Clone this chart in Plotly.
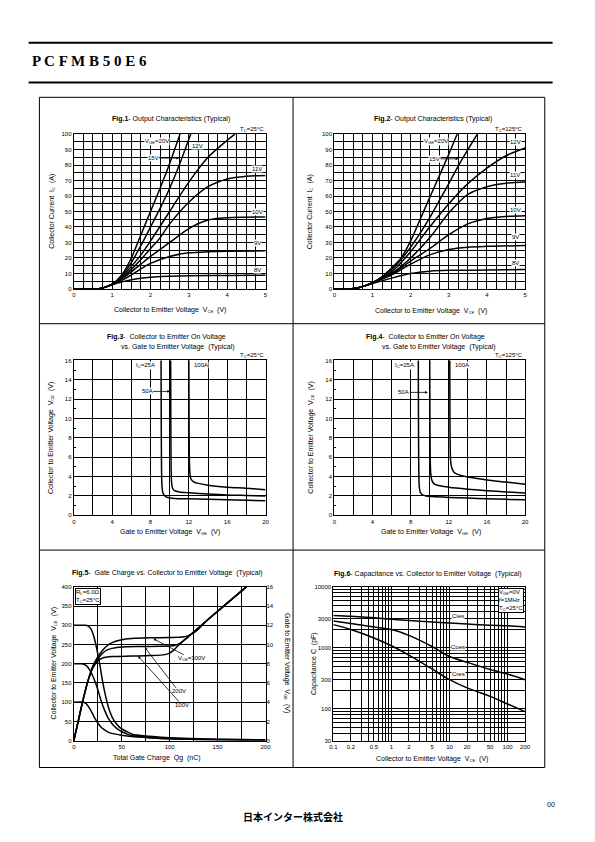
import math
import plotly.graph_objects as go

FONT = "Liberation Sans, Arial, sans-serif"
W, H = 595, 842

# ---------------- DATA ----------------
# Fig.1  Output characteristics, Tc=25°C : VCE (V) -> IC (A)
f1_vce_8 = [0, 0.6, 0.8, 1.0, 1.25, 1.5, 2.0, 2.5, 3.0, 4.0, 5.0]
f1_ic_8 = [0, 0, 1.0, 2.8, 4.5, 6.0, 7.6, 8.2, 8.5, 8.7, 8.9]
f1_vce_9 = [0, 0.6, 0.8, 1.0, 1.25, 1.5, 1.75, 2.0, 2.5, 3.0, 3.5, 4.0, 5.0]
f1_ic_9 = [0, 0, 1.0, 3.0, 5.5, 9.0, 13.0, 16.5, 21.0, 23.3, 24.0, 24.3, 24.6]
f1_vce_10 = [0, 0.6, 0.8, 1.0, 1.25, 1.5, 1.75, 2.0, 2.5, 3.0, 3.5, 4.0, 4.5, 5.0]
f1_ic_10 = [0, 0, 1.0, 3.0, 6.5, 11.0, 16.0, 21.0, 30.0, 39.0, 44.5, 46.0, 46.3, 46.5]
f1_vce_11 = [0, 0.6, 0.8, 1.0, 1.25, 1.5, 1.75, 2.0, 2.25, 2.5, 3.0, 3.5, 4.0, 4.5, 5.0]
f1_ic_11 = [0, 0, 1.0, 3.0, 7.0, 12.5, 19.0, 26.0, 33.0, 42.0, 56.0, 66.0, 71.0, 72.8, 73.3]
f1_vce_12 = [0, 0.6, 0.8, 1.0, 1.25, 1.5, 1.75, 2.0, 2.5, 3.0, 3.5, 4.0, 4.2]
f1_ic_12 = [0, 0, 1.0, 3.0, 7.5, 14.5, 22.0, 31.0, 50.0, 69.0, 85.0, 96.0, 100.0]
f1_vce_15 = [0, 0.6, 0.8, 1.0, 1.25, 1.5, 1.75, 2.0, 2.25, 2.5, 2.75, 3.05]
f1_ic_15 = [0, 0, 1.0, 3.0, 8.5, 17.0, 28.0, 40.0, 52.0, 65.0, 80.0, 100.0]
f1_vce_20 = [0, 0.6, 0.8, 1.0, 1.25, 1.5, 1.75, 2.0, 2.25, 2.5, 2.77]
f1_ic_20 = [0, 0, 1.0, 3.0, 9.0, 20.0, 35.0, 50.0, 65.0, 81.0, 100.0]

# Fig.2  Output characteristics, Tc=125°C
f2_vce_8 = [0, 0.4, 0.6, 0.8, 1.0, 1.5, 2.0, 2.5, 3.0, 4.0, 5.0]
f2_ic_8 = [0, 0, 0.6, 2.0, 3.5, 7.0, 10.0, 11.5, 12.0, 12.2, 12.5]
f2_vce_9 = [0, 0.4, 0.6, 0.8, 1.0, 1.5, 2.0, 2.5, 3.0, 3.5, 4.0, 5.0]
f2_ic_9 = [0, 0, 0.6, 2.0, 4.0, 9.0, 16.0, 22.0, 25.5, 27.0, 27.5, 28.0]
f2_vce_10 = [0, 0.4, 0.6, 0.8, 1.0, 1.5, 2.0, 2.5, 3.0, 3.5, 4.0, 4.5, 5.0]
f2_ic_10 = [0, 0, 0.6, 2.0, 4.0, 9.5, 18.0, 26.0, 35.0, 42.0, 45.5, 46.8, 47.3]
f2_vce_11 = [0, 0.4, 0.6, 0.8, 1.0, 1.5, 2.0, 2.5, 3.0, 3.5, 4.0, 4.5, 5.0]
f2_ic_11 = [0, 0, 0.6, 2.0, 4.0, 10.0, 20.0, 33.0, 49.0, 61.0, 66.0, 68.3, 69.0]
f2_vce_12 = [0, 0.4, 0.6, 0.8, 1.0, 1.5, 2.0, 2.25, 2.5, 3.0, 3.5, 4.0, 4.5, 5.0]
f2_ic_12 = [0, 0, 0.6, 2.0, 4.0, 11.0, 24.0, 32.0, 40.0, 55.0, 68.0, 78.0, 86.0, 91.0]
f2_vce_15 = [0, 0.4, 0.6, 0.8, 1.0, 1.25, 1.5, 1.75, 2.0, 2.25, 2.5, 2.75, 3.0, 3.25, 3.5, 3.75]
f2_ic_15 = [0, 0, 0.6, 2.0, 4.0, 7.5, 12.5, 19.0, 27.0, 36.0, 46.0, 57.0, 68.0, 79.5, 90.0, 100.0]
f2_vce_20 = [0, 0.4, 0.6, 0.8, 1.0, 1.25, 1.5, 1.75, 2.0, 2.25, 2.5, 2.75, 3.0, 3.22]
f2_ic_20 = [0, 0, 0.6, 2.0, 4.0, 8.0, 13.5, 20.0, 31.0, 45.0, 59.0, 73.0, 87.0, 100.0]

# Fig.3  VCE(sat) vs VGE, Tc=25°C : VGE (V) -> VCE (V)
f3_vge_25 = [9.1, 9.12, 9.15, 9.2, 9.3, 9.5, 9.8, 10.5, 12, 14, 16, 18, 20]
f3_vce_25 = [16.5, 10, 5, 3.0, 2.3, 2.0, 1.85, 1.75, 1.7, 1.65, 1.6, 1.55, 1.5]
f3_vge_50 = [10.1, 10.12, 10.15, 10.2, 10.3, 10.5, 11, 12, 14, 16, 18, 20]
f3_vce_50 = [16.5, 10, 5, 3.4, 2.8, 2.55, 2.42, 2.33, 2.2, 2.1, 2.05, 2.0]
f3_vge_100 = [12.0, 12.02, 12.05, 12.1, 12.2, 12.5, 13, 14, 16, 18, 20]
f3_vce_100 = [16.5, 10, 6, 4.5, 3.8, 3.45, 3.3, 3.1, 2.9, 2.8, 2.65]

# Fig.4  VCE(sat) vs VGE, Tc=125°C
f4_vge_25 = [8.8, 8.82, 8.85, 8.9, 9.0, 9.2, 9.6, 10.5, 12, 14, 16, 18, 20]
f4_vce_25 = [16.5, 10, 5, 3.0, 2.4, 2.15, 2.0, 1.93, 1.85, 1.78, 1.7, 1.65, 1.6]
f4_vge_50 = [10.0, 10.02, 10.05, 10.1, 10.2, 10.4, 10.8, 12, 14, 16, 18, 20]
f4_vce_50 = [16.5, 10, 6, 4.4, 3.7, 3.3, 3.1, 2.9, 2.7, 2.55, 2.42, 2.3]
f4_vge_100 = [12.1, 12.12, 12.15, 12.2, 12.35, 12.6, 13, 14, 16, 18, 20]
f4_vce_100 = [16.5, 10, 7, 5.5, 4.8, 4.4, 4.2, 3.95, 3.65, 3.43, 3.2]

# Fig.5  Gate charge : Qg (nC) -> VCE (V) and VGE (V)
f5_q_vce300 = [0, 12, 15, 18, 21, 24, 27, 30, 33, 37, 42, 48, 55, 61, 75, 95, 130, 170, 200]
f5_vce300 = [300, 300, 298, 290, 270, 238, 200, 155, 118, 80, 52, 34, 24, 17, 12, 8.6, 5, 3, 2.5]
f5_q_vce200 = [0, 8, 11, 14, 17, 20, 23, 26, 29, 32, 36, 42, 48, 55, 61, 80, 100, 150, 200]
f5_vce200 = [200, 200, 198, 193, 182, 167, 148, 125, 100, 80, 58, 38, 26, 18, 13, 8, 5, 3, 2]
f5_q_vce100 = [0, 10, 13, 16, 19, 22, 25, 28, 32, 37, 48, 60, 78, 120, 200]
f5_vce100 = [100, 100, 96, 86, 73, 58, 46, 36, 28, 21, 15, 11, 8, 4, 2]
f5_q_vge100 = [0, 5, 10, 15, 20, 25, 30, 40, 60, 80, 95, 100, 105, 110, 125, 140, 160, 180]
f5_vge100 = [0, 2.2, 4.4, 6.3, 7.6, 8.3, 8.6, 8.75, 8.8, 8.85, 8.95, 9.1, 9.5, 10.0, 11.3, 12.6, 14.3, 16.0]
f5_q_vge200 = [0, 5, 10, 15, 20, 25, 30, 35, 40, 50, 70, 90, 105, 110, 115, 120, 125, 140, 160, 180]
f5_vge200 = [0, 2.2, 4.4, 6.3, 7.7, 8.5, 9.1, 9.45, 9.6, 9.75, 9.8, 9.82, 9.9, 10.1, 10.45, 10.85, 11.3, 12.6, 14.3, 16.0]
f5_q_vge300 = [0, 5, 10, 15, 20, 25, 30, 35, 40, 50, 60, 80, 100, 115, 120, 125, 130, 140, 160, 180]
f5_vge300 = [0, 2.2, 4.4, 6.3, 7.8, 8.7, 9.4, 9.9, 10.2, 10.5, 10.62, 10.7, 10.72, 10.8, 10.95, 11.2, 11.6, 12.6, 14.3, 16.0]

# Fig.6  Capacitance : VCE (V) -> C (pF)
f6_vce = [0.1, 0.2, 0.5, 1, 2, 5, 10, 20, 50, 100, 200]
f6_cies = [3400, 3300, 3100, 2950, 2800, 2650, 2550, 2450, 2350, 2300, 2200]
f6_coes = [2750, 2500, 2200, 2000, 1600, 1050, 720, 580, 440, 370, 300]
f6_cres = [2400, 2000, 1450, 1080, 760, 450, 300, 220, 160, 120, 90]

# tick labels / grid positions of Fig.6
f6_xticks = [0.1, 0.2, 0.5, 1, 2, 5, 10, 20, 50, 100, 200]
f6_xlabels = ["0.1", "0.2", "0.5", "1", "2", "5", "10", "20", "50", "100", "200"]
f6_xgrid = [0.1, 0.2, 0.3, 0.4, 0.5, 0.6, 0.7, 0.8, 0.9, 1, 2, 3, 4, 5, 6, 7, 8, 9,
            10, 20, 30, 40, 50, 60, 70, 80, 90, 100, 200]
f6_yticks = [30, 100, 300, 1000, 3000, 10000]
f6_ylabels = ["30", "100", "300", "1000", "3000", "10000"]
f6_ygrid = [30, 40, 50, 60, 70, 80, 90, 100, 200, 300, 400, 500, 600, 700, 800, 900,
            1000, 2000, 3000, 4000, 5000, 6000, 7000, 8000, 9000, 10000]


# ---------------- helpers ----------------
def px(x):
    return x / W


def py(y):
    return 1 - y / H


def sub(s):
    # small, slightly lowered subscript without plotly's spacer tspans
    return '<span style="font-size:4.2px;baseline-shift:-1.3px">' + s + '</span>'


GRID = dict(showgrid=True, gridcolor="black", gridwidth=1)


def axis(**kw):
    d = dict(showline=True, linecolor="black", linewidth=1.2, mirror=True,
             zeroline=False, ticks="", ticklen=0,
             tickfont=dict(family=FONT, size=6, color="black"), **GRID)
    d.update(kw)
    return d


def minor(dt, grid=True):
    if grid:
        return dict(dtick=dt, showgrid=True, gridcolor="black", gridwidth=1, ticks="")
    return dict(dtick=dt, showgrid=False, ticks="inside", ticklen=2, tickcolor="black")


def minor_arr(vals):
    return dict(tickmode="array", tickvals=vals, showgrid=True, gridcolor="black",
                gridwidth=1, ticks="")


fig = go.Figure()
LINE = dict(color="black", width=1.5, shape="spline", smoothing=0.8)


def curve(x, y, xa, ya):
    fig.add_trace(go.Scatter(x=x, y=y, mode="lines", line=LINE, xaxis=xa, yaxis=ya,
                             hoverinfo="skip"))


for x, y in [(f1_vce_8, f1_ic_8), (f1_vce_9, f1_ic_9), (f1_vce_10, f1_ic_10),
             (f1_vce_11, f1_ic_11), (f1_vce_12, f1_ic_12), (f1_vce_15, f1_ic_15),
             (f1_vce_20, f1_ic_20)]:
    curve(x, y, "x", "y")
for x, y in [(f2_vce_8, f2_ic_8), (f2_vce_9, f2_ic_9), (f2_vce_10, f2_ic_10),
             (f2_vce_11, f2_ic_11), (f2_vce_12, f2_ic_12), (f2_vce_15, f2_ic_15),
             (f2_vce_20, f2_ic_20)]:
    curve(x, y, "x2", "y2")
for x, y in [(f3_vge_25, f3_vce_25), (f3_vge_50, f3_vce_50), (f3_vge_100, f3_vce_100)]:
    curve(x, y, "x3", "y3")
for x, y in [(f4_vge_25, f4_vce_25), (f4_vge_50, f4_vce_50), (f4_vge_100, f4_vce_100)]:
    curve(x, y, "x4", "y4")
for x, y in [(f5_q_vce300, f5_vce300), (f5_q_vce200, f5_vce200), (f5_q_vce100, f5_vce100)]:
    curve(x, y, "x5", "y5")
for x, y in [(f5_q_vge100, f5_vge100), (f5_q_vge200, f5_vge200), (f5_q_vge300, f5_vge300)]:
    curve(x, y, "x5", "y7")
for y in [f6_cies, f6_coes, f6_cres]:
    curve(f6_vce, y, "x6", "y6")

L1, R1, L2, R2 = 71, 266, 336, 530
T1, B1, T2, B2, T3, B3 = 132, 288, 360, 516, 588, 743

layout = dict(
    width=W, height=H, margin=dict(l=0, r=0, t=0, b=0),
    paper_bgcolor="white", plot_bgcolor="white", showlegend=False,
    font=dict(family=FONT, color="black", size=6),
    xaxis=axis(domain=[px(L1), px(R1)], range=[0, 5], dtick=1, tick0=0, minor=minor(0.25), anchor="y"),
    yaxis=axis(domain=[py(B1), py(T1)], range=[0, 100], dtick=10, tick0=0, minor=minor(5), anchor="x"),
    xaxis2=axis(domain=[px(L2), px(R2)], range=[0, 5], dtick=1, tick0=0, minor=minor(0.25), anchor="y2"),
    yaxis2=axis(domain=[py(B1), py(T1)], range=[0, 100], dtick=10, tick0=0, minor=minor(5), anchor="x2"),
    xaxis3=axis(domain=[px(L1), px(R1)], range=[0, 20], dtick=4, tick0=0, minor=minor(2), anchor="y3"),
    yaxis3=axis(domain=[py(B2), py(T2)], range=[0, 16], dtick=2, tick0=0, minor=minor(1, False), anchor="x3"),
    xaxis4=axis(domain=[px(L2), px(R2)], range=[0, 20], dtick=4, tick0=0, minor=minor(2), anchor="y4"),
    yaxis4=axis(domain=[py(B2), py(T2)], range=[0, 16], dtick=2, tick0=0, minor=minor(1, False), anchor="x4"),
    xaxis5=axis(domain=[px(L1), px(R1)], range=[0, 200], dtick=50, tick0=0, minor=minor(25), anchor="y5"),
    yaxis5=axis(domain=[py(B3), py(T3)], range=[0, 400], dtick=50, tick0=0, anchor="x5"),
    yaxis7=dict(overlaying="y5", side="right", anchor="x5", range=[0, 16], dtick=2, tick0=0,
                showgrid=False, zeroline=False, showline=False, ticks="",
                tickfont=dict(family=FONT, size=6, color="black")),
    xaxis6=axis(type="log", domain=[px(335), px(R2)], range=[-1, math.log10(200)],
                tickmode="array", tickvals=f6_xticks, ticktext=f6_xlabels,
                minor=minor_arr(f6_xgrid), anchor="y6"),
    yaxis6=axis(type="log", domain=[py(B3), py(T3)], range=[math.log10(30), 4],
                tickmode="array", tickvals=f6_yticks, ticktext=f6_ylabels,
                minor=minor_arr(f6_ygrid), anchor="x6"),
)

ann = []


def text(x, y, s, size=6, xanchor="center", yanchor="middle", angle=0, bg=None, **kw):
    d = dict(x=px(x), y=py(y), xref="paper", yref="paper", text=s, showarrow=False,
             xanchor=xanchor, yanchor=yanchor, textangle=angle,
             font=dict(family=FONT, size=size, color="black"))
    if bg:
        d.update(bgcolor=bg, borderpad=0)
    d.update(kw)
    ann.append(d)


def arrow(xd, yd, xr, yr, s, ax, ay, bg="white"):
    d = dict(x=xd, y=yd, xref=xr, yref=yr, text=s, showarrow=True, ax=ax, ay=ay,
             arrowhead=2, arrowsize=0.7, arrowwidth=0.8, arrowcolor="black",
             borderpad=0, standoff=0,
             font=dict(family=FONT, size=6, color="black"))
    if bg:
        d["bgcolor"] = bg
    ann.append(d)


VCE_T = "Collector to Emitter Voltage  V" + sub("CE") + "  (V)"
VGE_T = "Gate to Emitter Voltage  V" + sub("GE") + "  (V)"
IC_T = "Collector Current  I" + sub("C") + "  (A)"
TS = 7  # title size

# Fig.1
text(170, 117, "<b>Fig.1</b>- Output Characteristics (Typical)", TS)
text(266, 127, "T" + sub("C") + "=25°C", 6, xanchor="right")
text(156, 139, "V" + sub("GE") + "=20V", bg="white")
arrow(2.75, 84.5, "x", "y", "15V", -26, 0)
text(197, 144, "12V", bg="white")
text(257, 167, "11V", bg="white")
text(258, 210, "10V", bg="white")
text(258, 242, "9V", bg="white")
text(258, 269, "8V", bg="white")
text(48, 210, IC_T, TS, angle=-90)
text(169, 309, VCE_T, TS)

# Fig.2
text(436, 117, "<b>Fig.2</b>- Output Characteristics (Typical)", TS)
text(530, 127, "T" + sub("C") + "=125°C", 6, xanchor="right")
text(439, 139, "V" + sub("GE") + "=20V", bg="white")
arrow(3.25, 84, "x2", "y2", "15V", -24, 0)
text(520, 140, "12V", bg="white")
text(520, 173, "11V", bg="white")
text(520, 208, "10V", bg="white")
text(520, 236, "9V", bg="white")
text(520, 262, "8V", bg="white")
text(311, 210, IC_T, TS, angle=-90)
text(434, 310, VCE_T, TS)

# Fig.3
text(165, 336, "<b>Fig.3</b>-  Collector to Emitter On Voltage", TS)
text(177, 346, "vs. Gate to Emitter Voltage  (Typical)", TS)
text(266, 355, "T" + sub("C") + "=25°C", 6, xanchor="right")
text(144, 365, "I" + sub("C") + "=25A", bg="white")
text(200, 365, "100A", bg="white")
arrow(10.05, 12.8, "x3", "y3", "50A", -23, 0)
text(48, 438, VCE_T, TS, angle=-90)
text(169, 533, VGE_T, TS)

# Fig.4
text(429, 336, "<b>Fig.4</b>-  Collector to Emitter On Voltage", TS)
text(442, 346, "vs. Gate to Emitter Voltage  (Typical)", TS)
text(530, 355, "T" + sub("C") + "=125°C", 6, xanchor="right")
text(407, 365, "I" + sub("C") + "=25A", bg="white")
text(466, 365, "100A", bg="white")
arrow(9.8, 12.7, "x4", "y4", "50A", -24, 0)
text(312, 438, VCE_T, TS, angle=-90)
text(434, 533, VGE_T, TS)

# Fig.5
text(166, 574, "<b>Fig.5</b>-  Gate Charge vs. Collector to Emitter Voltage  (Typical)", TS)
text(72, 589, "R" + sub("L") + "=6.0Ω<br>T" + sub("C") + "=25°C", 6, xanchor="left", yanchor="top",
     bg="white", bordercolor="black", borderwidth=1, align="left")
arrow(83, 10.6, "x5", "y7", "V" + sub("CE") + "=300V", 38, 20, bg=None)
arrow(74, 9.7, "x5", "y7", "200V", 34, 44, bg=None)
arrow(67, 8.8, "x5", "y7", "100V", 44, 49, bg=None)
text(51, 665, VCE_T, TS, angle=-90)
text(288, 665, VGE_T, TS, angle=90)
text(156, 760, "Total Gate Charge  Qg  (nC)", TS)

# Fig.6
text(431, 575, "<b>Fig.6</b>- Capacitance vs. Collector to Emitter Voltage  (Typical)", TS)
text(529, 589, "V" + sub("GE") + "=0V<br>f=1MHz<br>T" + sub("C") + "=25°C", 6,
     xanchor="right", yanchor="top",
     bg="white", bordercolor="black", borderwidth=1, align="left")
text(462, 617, "Cies", bg="white")
text(462, 649, "Coes", bg="white")
text(462, 676, "Cres", bg="white")
text(316, 665, "Capacitance C  (pF)", TS, angle=-90)
text(435, 761, VCE_T, TS)

# page header / footer
text(26, 58, "<b>P C F M B 5 0 E 6</b>", 15, xanchor="left",
     font=dict(family="Liberation Serif, serif", size=15, color="black"))
text(556, 807, "00", 7)
text(294, 819, "<b>日本インター株式会社</b>", 10,
     font=dict(family="Noto Sans CJK JP", size=10, color="black"))

layout["annotations"] = ann

shapes = []


def pline(x0, y0, x1, y1, w=1):
    shapes.append(dict(type="line", xref="paper", yref="paper", x0=px(x0), y0=py(y0),
                       x1=px(x1), y1=py(y1), line=dict(color="black", width=w)))


pline(25, 40, 558, 40, 2)
pline(25, 80, 558, 80, 2)
shapes.append(dict(type="rect", xref="paper", yref="paper", x0=px(36), y0=py(95),
                   x1=px(550), y1=py(770), line=dict(color="black", width=1)))
pline(294, 95, 294, 770)
pline(36, 323, 550, 323)
pline(36, 551, 550, 551)
layout["shapes"] = shapes

fig.update_layout(**layout)
fig.write_html("out.html", config={"displayModeBar": False},
               post_script="document.body.style.margin='0';")
